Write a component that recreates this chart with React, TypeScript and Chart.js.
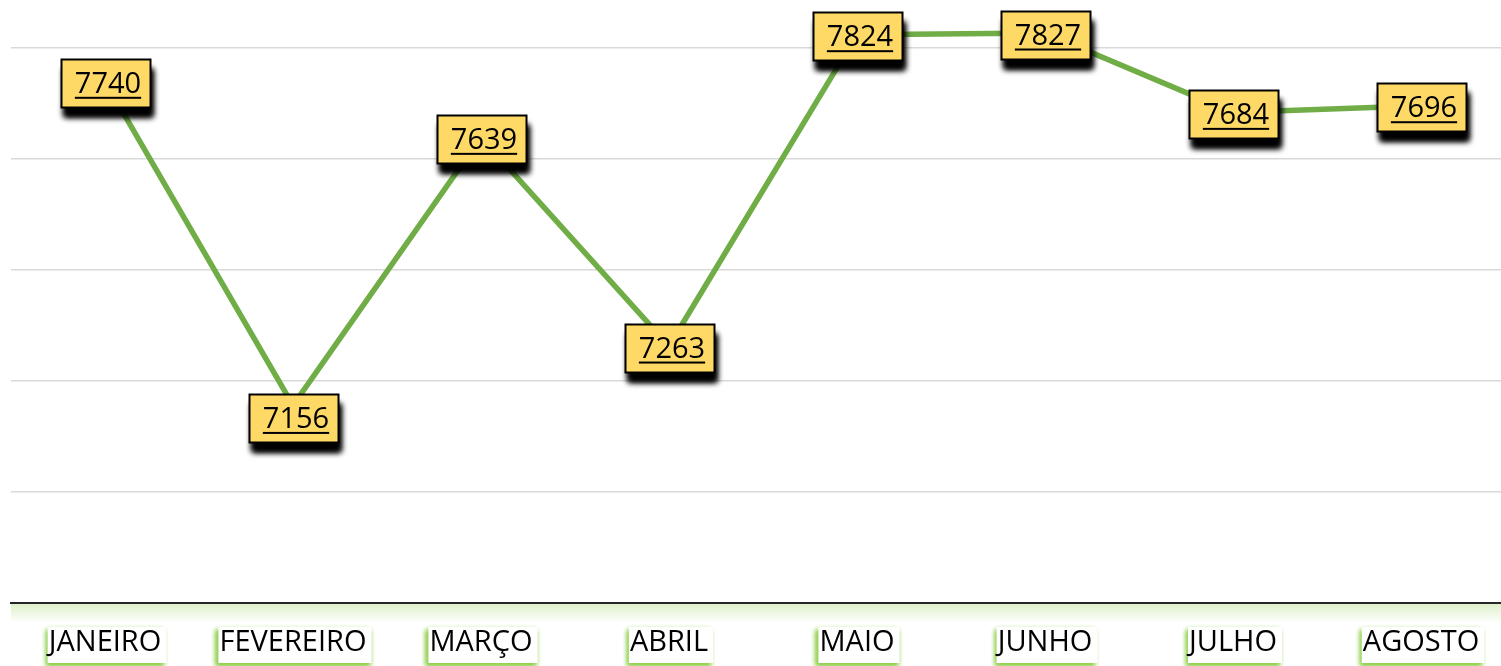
import React, { useEffect, useRef } from "react";
import { Chart, registerables } from "chart.js";

Chart.register(...registerables);

const months = ["JANEIRO", "FEVEREIRO", "MARÇO", "ABRIL", "MAIO", "JUNHO", "JULHO", "AGOSTO"];
const values = [7740, 7156, 7639, 7263, 7824, 7827, 7684, 7696];
const yMin = 6800;
const yMax = 7800;
const yStep = 200;

const FONT = "'Open Sans', 'DejaVu Sans', sans-serif";
const CANVAS_W = 1520;
const CANVAS_H = 666;

const axisGlowPlugin = {
  id: "axisGlow",
  beforeDraw(chart: any) {
    const { ctx, chartArea } = chart;
    const xs = chart.scales.x;
    ctx.save();
    const g = ctx.createLinearGradient(0, chartArea.bottom + 1, 0, chartArea.bottom + 20);
    g.addColorStop(0, "rgba(190,225,150,0.5)");
    g.addColorStop(1, "rgba(190,225,150,0)");
    ctx.fillStyle = g;
    ctx.fillRect(chartArea.left, chartArea.bottom + 1, chart.width - chartArea.left, 19);
    ctx.font = `29px ${FONT}`;
    xs.ticks.forEach((_t: any, i: number) => {
      const x = xs.getPixelForTick(i);
      const w = ctx.measureText(months[i]).width;
      ctx.shadowColor = "rgba(146,208,80,1)";
      ctx.shadowBlur = 5;
      ctx.shadowOffsetX = -2;
      ctx.shadowOffsetY = 3;
      ctx.fillStyle = "#ffffff";
      ctx.fillRect(x - w / 2 - 1, 627, w + 6, 36);
      ctx.fillRect(x - w / 2 - 1, 627, w + 6, 36);
    });
    ctx.restore();
  },
};

const dataLabelPlugin = {
  id: "boxLabels",
  afterDatasetsDraw(chart: any, _args: any, opts: any) {
    const { ctx } = chart;
    const meta = chart.getDatasetMeta(0);
    const nudge = opts.nudge || {};
    ctx.save();
    meta.data.forEach((pt: any, i: number) => {
      const bw = 89;
      const bh = 48;
      const cx = pt.x;
      const cy = pt.y + 1.5 + (nudge[i] || 0);
      const x0 = Math.round(cx - bw / 2) + 0.5;
      const y0 = Math.round(cy - bh / 2) + 0.5;
      ctx.save();
      ctx.shadowColor = "rgba(0,0,0,1)";
      ctx.shadowBlur = 6;
      ctx.shadowOffsetX = 2;
      ctx.shadowOffsetY = 9;
      ctx.fillStyle = "#FFD966";
      ctx.fillRect(x0, y0, bw, bh);
      ctx.fillRect(x0, y0, bw, bh);
      ctx.restore();
      ctx.fillStyle = "#FFD966";
      ctx.fillRect(x0, y0, bw, bh);
      ctx.lineWidth = 2;
      ctx.strokeStyle = "#000000";
      ctx.strokeRect(x0, y0, bw, bh);
      const txt = String(values[i]);
      ctx.font = `29px ${FONT}`;
      ctx.fillStyle = "#000000";
      ctx.textAlign = "center";
      ctx.textBaseline = "alphabetic";
      const tx = cx + 3;
      const ty = cy + 10;
      ctx.fillText(txt, tx, ty);
      const tw = ctx.measureText(txt).width;
      ctx.fillRect(tx - tw / 2, ty + 4, tw, 2);
    });
    ctx.restore();
  },
};

export default function App() {
  const ref = useRef<HTMLCanvasElement>(null);
  useEffect(() => {
    if (!ref.current) return;
    const chart = new Chart(ref.current, {
      type: "line",
      data: {
        labels: months,
        datasets: [
          {
            data: values,
            borderColor: "#70AD47",
            borderWidth: 5.5,
            pointRadius: 0,
            tension: 0,
            clip: false as any,
          },
        ],
      },
      options: {
        responsive: false,
        animation: false,
        devicePixelRatio: 1,
        layout: { padding: { left: 11, right: CANVAS_W - 1515, top: 48, bottom: 0 } },
        plugins: {
          legend: { display: false },
          tooltip: { enabled: false },
          boxLabels: { nudge: { 1: 11 } },
        } as any,
        scales: {
          x: {
            offset: true,
            grid: { display: false, drawTicks: false },
            border: { display: true, color: "#262626", width: 2 },
            ticks: {
              color: "#000000",
              font: { family: FONT, size: 29 },
              padding: 22,
              maxRotation: 0,
              autoSkip: false,
            },
            afterFit(scale: any) {
              scale.height = CANVAS_H - 603;
            },
          },
          y: {
            min: yMin,
            max: yMax,
            ticks: { display: false, stepSize: yStep },
            grid: { color: "#D9D9D9", lineWidth: 1.5, drawTicks: false },
            border: { display: false },
            afterFit(scale: any) {
              scale.width = 0;
            },
          },
        },
      },
      plugins: [axisGlowPlugin, dataLabelPlugin],
    });
    return () => chart.destroy();
  }, []);
  return (
    <div
      style={{
        position: "fixed",
        left: 0,
        top: 0,
        width: 1501,
        height: CANVAS_H,
        overflow: "hidden",
        background: "#ffffff",
      }}
    >
      <canvas
        ref={ref}
        width={CANVAS_W}
        height={CANVAS_H}
        style={{ width: CANVAS_W, height: CANVAS_H, display: "block" }}
      />
    </div>
  );
}
